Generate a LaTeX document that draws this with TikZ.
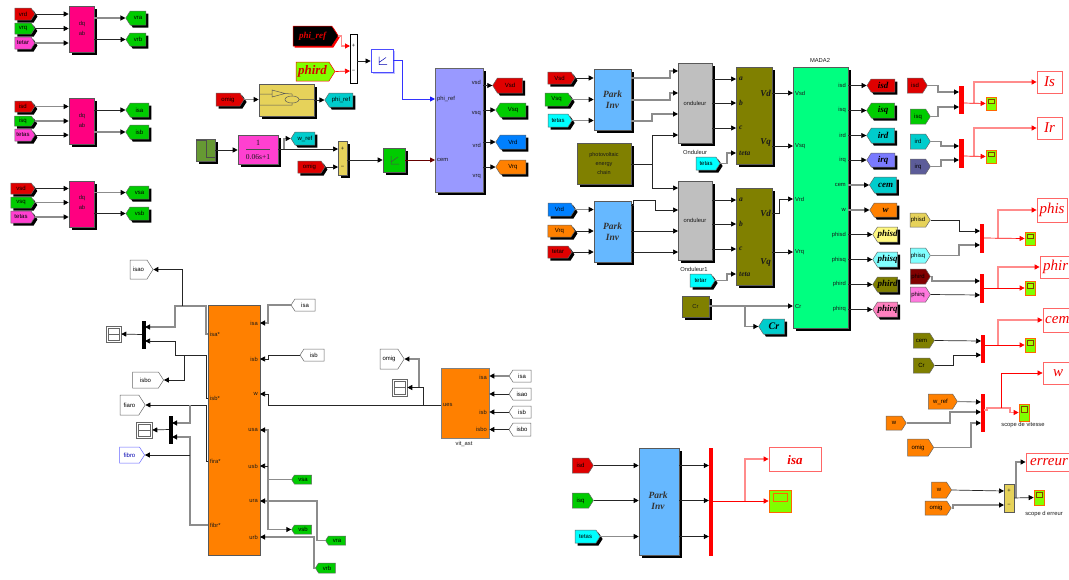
\documentclass[tikz,border=0pt]{standalone}
\usepackage{fontspec}
\setmainfont{Liberation Sans}
\newfontfamily\serifit[ItalicFont={Liberation Serif Italic},BoldItalicFont={Liberation Serif Bold Italic}]{Liberation Serif}
\usetikzlibrary{arrows.meta,shapes.symbols,shadows,calc}
\definecolor{rd}{HTML}{E00000}\definecolor{gr}{HTML}{00CC00}\definecolor{mg}{HTML}{FF40D0}
\definecolor{pk}{HTML}{FF0080}\definecolor{tl}{HTML}{00CCCC}\definecolor{ac}{HTML}{00FFFF}
\definecolor{og}{HTML}{FF8000}\definecolor{bl}{HTML}{0080FF}\definecolor{ol}{HTML}{808000}
\definecolor{yl}{HTML}{E6D25A}\definecolor{lav}{HTML}{9999FF}\definecolor{sky}{HTML}{66B8FF}
\definecolor{mada}{HTML}{00FF80}\definecolor{lime}{HTML}{80FF00}\definecolor{stepc}{HTML}{669933}
\newcount\lbc
\newif\ifnoshadow
\newcommand{\bx}[6][]{\noshadowfalse\pgfmathsetmacro\cxv{(#3+#5)/2}\pgfmathsetmacro\cyv{(#4+#6)/2}\pgfmathsetmacro\wv{#5-#3}\pgfmathsetmacro\hv{#6-#4}%
 \node[blk,#1,finalshd,minimum width=\wv pt,minimum height=\hv pt] (#2) at (\cxv,\cyv) {};}
\newcommand{\tr}[7][]{\noshadowfalse\pgfmathsetmacro\cxv{(#3+#5)/2}\pgfmathsetmacro\cyv{(#4+#6)/2}\pgfmathsetmacro\wv{#5-#3}\pgfmathsetmacro\hv{#6-#4}%
 \node[tagr,#1,finalshd,minimum width=\wv pt,minimum height=\hv pt] (#2) at (\cxv,\cyv) {#7};}
\newcommand{\tl}[7][]{\noshadowfalse\pgfmathsetmacro\cxv{(#3+#5)/2}\pgfmathsetmacro\cyv{(#4+#6)/2}\pgfmathsetmacro\wv{#5-#3}\pgfmathsetmacro\hv{#6-#4}%
 \node[tagl,#1,finalshd,minimum width=\wv pt,minimum height=\hv pt] (#2) at (\cxv,\cyv) {#7};}
\newcommand{\lb}[4][]{\global\advance\lbc by 1 \node[lbl,#1] (lb\the\lbc) at (#2,#3) {#4};}
\newcommand{\cc}[3]{\coordinate (#1) at (#2,#3);}
\newcommand{\gs}[5]{\bx[gscope]{#1}{#2}{#3}{#4}{#5}\pgfmathsetmacro\aav{#2+2}\pgfmathsetmacro\bbv{#4-2}\pgfmathsetmacro\ccv{#3+2}\pgfmathsetmacro\ddv{(#3+#5)/2}\draw[draw=black!50!orange,fill=lime!70!yellow,line width=.5pt] (\aav,\ccv) rectangle (\bbv,\ddv);}
\newcommand{\ws}[5]{\bx[wscope]{#1}{#2}{#3}{#4}{#5}\pgfmathsetmacro\aav{#2+2}\pgfmathsetmacro\bbv{#4-2}\pgfmathsetmacro\ccv{#3+2}\pgfmathsetmacro\ddv{(#3+#5)/2}\pgfmathsetmacro\eev{#5-2}\draw[black!60,line width=.5pt] (\aav,\ccv) rectangle (\bbv,\eev) (\aav,\ddv) -- (\bbv,\ddv);}
\newcommand{\piicon}[3][blue!70!black]{\draw[#1,line width=.5pt] (#2-3,#3-4) -- (#2-3,#3+4) -- (#2+5,#3+4) (#2-3,#3+2) -- (#2+4,#3-3);}
\tikzset{
 shd/.style={drop shadow={shadow xshift=2.5pt,shadow yshift=-2.5pt,fill=black,opacity=1}},
 noshd/.code={\noshadowtrue},
 finalshd/.code={\ifnoshadow\else\pgfkeysalso{shd}\fi},
 blk/.style={draw=black!65,line width=.6pt,inner sep=0pt},
 tagr/.style={shape=signal,signal to=east,signal pointer angle=115,draw=black!60,line width=.5pt,inner sep=0pt,font=\fontsize{6}{6}\selectfont,text=black},
 tagl/.style={shape=signal,signal to=west,signal pointer angle=115,draw=black!60,line width=.5pt,inner sep=0pt,font=\fontsize{6}{6}\selectfont,text=black},
 ital/.style={font=\serifit\bfseries\itshape\fontsize{9}{9}\selectfont,text=black},
 lbl/.style={inner sep=0pt,font=\fontsize{5.8}{6}\selectfont,text=black!90},
 parkl/.style={inner sep=0pt,align=center,font=\serifit\bfseries\itshape\fontsize{9.5}{11}\selectfont,text=black!80},
 pinl/.style={inner sep=0pt,font=\serifit\bfseries\itshape\fontsize{7.5}{8}\selectfont,text=black!90},
 gscope/.style={draw=orange!80!red,fill=lime,line width=.7pt,inner sep=0pt,noshd},
 wscope/.style={draw=black!60,fill=white,line width=.6pt,inner sep=0pt,noshd},
 disp/.style={draw=red!60,fill=white,line width=.8pt,inner sep=0pt,noshd},
 dispt/.style={inner sep=0pt,text=red!95!black,font=\serifit\itshape\fontsize{15}{15}\selectfont},
 muxr/.style={draw=red,fill=red,inner sep=0pt,line width=.3pt,noshd},
 muxk/.style={draw=black,fill=black,inner sep=0pt,line width=.3pt,noshd},
 wr/.style={draw=black!85,line width=.7pt,-{Triangle[length=5pt,width=5pt,black]}},
 wg/.style={draw=black!45,line width=1.1pt,-{Triangle[length=5pt,width=5pt,black]}},
 rw/.style={draw=red,line width=.7pt,-{Triangle[length=5pt,width=5pt,red]}},
 rg/.style={draw=red!45,line width=1.1pt,-{Triangle[length=5pt,width=5pt,red]}},
}
\begin{document}
\begin{tikzpicture}[x=1pt,y=-1pt]
\useasboundingbox (0,0) rectangle (1069,579);
% ---- top-left transforms
\tr[fill=rd]{a1}{13}{8}{33}{20}{vrd}\tr[fill=gr]{a2}{13}{23}{33}{34}{vrq}\tr[fill=mg]{a3}{13}{37}{33}{49}{tetar}
\bx[fill=pk]{A}{69}{6}{94}{52}\lb{82}{24}{dq}\lb{82}{33}{ab}
\tl[fill=gr]{a4}{128}{11}{148}{25}{vra}\tl[fill=gr]{a5}{128}{33}{148}{46}{vrb}
\draw[wr] (a1.east) -- (a1.east -| A.west);\draw[wr] (a2.east) -- (a2.east -| A.west);\draw[wg] (a3.east) -- (a3.east -| A.west);
\draw[wg] (a4.west -| A.east) -- (a4.west);\draw[wr] (a5.west -| A.east) -- (a5.west);
\tr[fill=rd]{b1}{13}{101}{33}{112}{isd}\tr[fill=gr]{b2}{13}{116}{33}{126}{isq}\tr[fill=mg]{b3}{13}{129}{33}{141}{tetas}
\bx[fill=pk]{B}{69}{98}{94}{144}\lb{82}{116}{dq}\lb{82}{125}{ab}
\tl[fill=gr]{b4}{128}{103}{151}{117}{isa}\tl[fill=gr]{b5}{128}{125}{151}{139}{isb}
\draw[wg] (b1.east) -- (b1.east -| B.west);\draw[wg] (b2.east) -- (b2.east -| B.west);\draw[wr] (b3.east) -- (b3.east -| B.west);
\draw[wr] (b4.west -| B.east) -- (b4.west);\draw[wg] (b5.west -| B.east) -- (b5.west);
\tr[fill=rd]{c1}{9}{183}{33}{194}{vsd}\tr[fill=gr]{c2}{9}{197}{33}{208}{vsq}\tr[fill=mg]{c3}{9}{211}{33}{223}{tetas}
\bx[fill=pk]{C}{69}{181}{94}{227}\lb{82}{198}{dq}\lb{82}{207}{ab}
\tl[fill=gr]{c4}{128}{186}{151}{199}{vsa}\tl[fill=gr]{c5}{128}{207}{151}{220}{vsb}
\draw[wr] (c1.east) -- (c1.east -| C.west);\draw[wg] (c2.east) -- (c2.east -| C.west);\draw[wg] (c3.east) -- (c3.east -| C.west);
\draw[wg] (c4.west -| C.east) -- (c4.west);\draw[wr] (c5.west -| C.east) -- (c5.west);
% ---- control part
\tr[fill=black,draw=red,ital,text=red!90!black,noshd,drop shadow={shadow xshift=1.5pt,shadow yshift=-1.5pt,fill=red,opacity=1}]{pr}{290}{26}{335}{46}{phi\_ref}
\tr[fill=lime,draw=red,text=red!85!black,noshd,font=\serifit\bfseries\itshape\fontsize{13}{13}\selectfont]{ph}{293}{62}{332}{81}{phird}
\bx[fill=white,draw=black,noshd]{S1}{350}{34}{357}{83}\lb{353.5}{46}{+}\lb{353.5}{71}{−}
\cc{s1a}{350}{46}\cc{s1b}{350}{71}\cc{s1o}{357}{61}
\draw[rg] (pr.east) -- ++(3,0) |- (s1a);\draw[rw] (ph.east) -- (s1b);
\bx[fill=white,draw=blue!70,line width=.9pt,noshd,drop shadow={shadow xshift=1.5pt,shadow yshift=-1.5pt,fill=blue!25,opacity=1}]{P1}{371}{49}{393}{72}\piicon{382}{60.5}
\draw[wr] (s1o) -- (s1o -| P1.west);
\bx[fill=lav,draw=black!60]{V}{435}{68}{483}{192}
\cc{vp}{435}{99}\cc{vc}{435}{160}
\draw[draw=blue!80,line width=.9pt,-{Triangle[length=5pt,width=5pt,blue!90]}] (P1.east) -- ++(9,0) |- (vp);
\lb[anchor=west]{437}{99}{phi\_ref}\lb[anchor=west]{437}{160}{cem}
\lb[anchor=east]{481}{82}{vsd}\lb[anchor=east]{481}{114}{vsq}\lb[anchor=east]{481}{145}{vrd}\lb[anchor=east]{481}{177}{vrq}
\tl[fill=rd]{v1}{495}{78}{525}{93}{Vsd}\tl[fill=gr]{v2}{498}{103}{528}{117}{Vsq}\tl[fill=bl]{v3}{498}{135}{528}{149}{Vrd}\tl[fill=og]{v4}{498}{160}{528}{174}{Vrq}
\draw[wr] (v1.west -| V.east) -- (v1.west);\draw[wr] (v2.west -| V.east) -- (v2.west);\draw[wr] (v3.west -| V.east) -- (v3.west);\draw[wr] (v4.west -| V.east) -- (v4.west);
\tr[fill=rd]{om1}{214}{93}{242}{106}{omig}
\bx[fill=yl]{Y}{259}{84}{314}{116}
\draw[black!65,line width=.5pt] (259,94) -- (272,94) (272,90) -- (285,93.5) -- (272,97) -- cycle (285,93.5) -- (292,94) -- (292,96) (299,99.5) -- (314,99.5) (259,105) -- (292,105) -- (292,103);
\draw[black!65,fill=yl,line width=.5pt] (292,99.5) ellipse (7 and 3.5);
\tl[fill=tl]{pq}{327}{93}{355}{107}{phi\_ref}
\draw[wg] (om1.east) -- (om1.east -| Y.west);\draw[wr] (pq.west -| Y.east) -- (pq.west);
\bx[fill=stepc]{ST}{196}{139}{215}{161}
\draw[black!70,line width=.6pt] (196,140.5) -- (206,140.5) -- (206,157) -- (215,157);
\bx[fill=mg]{TF}{238}{135}{278}{164}
\lb[font=\serifit\fontsize{8}{8}\selectfont]{258}{143}{1}\lb[font=\serifit\fontsize{7.5}{8}\selectfont]{258}{157}{0.06s+1}
\draw[black!70,line width=.4pt] (246,149.5) -- (270,149.5);
\draw[wr] (ST.east) -- (ST.east -| TF.west);
\tl[fill=tl]{wr1}{293}{132}{317}{145}{w\_ref}
\bx[fill=yl]{S2}{338}{141}{347}{175}\lb{342.5}{149}{+}\lb{342.5}{167}{−}
\cc{s2a}{338}{149}\cc{s2b}{338}{167}\cc{s2o}{347}{160}\cc{tfo}{278}{149}\cc{j2}{284}{149}
\draw[wr] (tfo) -- (s2a);\draw[wg] (j2) -- (284,138.5) -- (wr1.west);
\tr[fill=rd]{om2}{296}{161}{323}{173}{omig}
\draw[wr] (om2.east) -- (s2b);
\bx[fill=gr]{P2}{383}{148}{405}{172}\piicon[black!70]{394}{160}
\draw[wr] (s2o) -- (s2o -| P2.west);
\draw[draw=red!40!black,line width=.8pt,-{Triangle[length=5pt,width=5pt,red!40!black]}] (P2.east) -- (vc);
% ---- inverters
\tr[fill=rd]{d1}{546}{72}{573}{84}{Vsd}\tr[fill=gr]{d2}{543}{93}{570}{106}{Vsq}\tr[fill=ac]{d3}{546}{114}{570}{127}{tetas}
\bx[fill=sky]{PI1}{594}{69}{631}{130}\lb[parkl]{612.5}{100}{Park\\Inv}
\draw[wr] (d1.east) -- (d1.east -| PI1.west);\draw[wg] (d2.east) -- (d2.east -| PI1.west);\draw[wg] (d3.east) -- (d3.east -| PI1.west);
\bx[fill=black!25]{O1}{678}{63}{712}{143}\lb{695}{103}{onduleur}\lb{695}{152}{Onduleur}
\bx[fill=black!25]{O2}{678}{181}{712}{260}\lb{695}{220}{onduleur}\lb{694}{269}{Onduleur1}
\cc{o1a}{678}{71}\cc{o1b}{678}{93}\cc{o1c}{678}{114}\cc{o1d}{678}{135}
\cc{o2a}{678}{188}\cc{o2b}{678}{210}\cc{o2c}{678}{231}\cc{o2d}{678}{252}
\cc{pio1}{631}{78}\cc{pio2}{631}{100}\cc{pio3}{631}{121}
\draw[wg] (pio1) -- (670,78) |- (o1a);\draw[wg] (pio2) -- (670,100) |- (o1b);\draw[wg] (pio3) -- (652,121) |- (o1c);
\bx[fill=ol]{PV}{577}{143}{631}{184}\lb[align=center,font=\fontsize{5.5}{9}\selectfont]{604}{163.5}{photovoltaic\\energy\\chain}
\cc{pvo}{631}{164}\cc{pvj}{652}{164}
\draw[wr] (pvo) -- (pvj) |- (o1d);\draw[wr] (pvj) |- (o2a);
\tr[fill=bl]{e1}{546}{203}{573}{216}{Vrd}\tr[fill=og]{e2}{546}{225}{573}{237}{Vrq}\tr[fill=rd]{e3}{546}{246}{570}{258}{tetar}
\bx[fill=sky]{PI2}{594}{201}{631}{262}\lb[parkl]{612.5}{232}{Park\\Inv}
\draw[wg] (e1.east) -- (e1.east -| PI2.west);\draw[wr] (e2.east) -- (e2.east -| PI2.west);\draw[wr] (e3.east) -- (e3.east -| PI2.west);
\cc{pip}{631}{205}
\draw[wr] (pip) -- (633,205) -- (633,200) -- (655,200) -- (655,210) -- (o2b);
\draw[wr] (o2c -| PI2.east) -- (o2c);\draw[wr] (o2d -| PI2.east) -- (o2d);
\bx[fill=ol]{Q1}{736}{67}{772}{164}\bx[fill=ol]{Q2}{736}{188}{772}{285}
\lb[pinl,anchor=west]{739}{79}{a}\lb[pinl,anchor=west]{739}{103}{b}\lb[pinl,anchor=west]{739}{128}{c}\lb[pinl,anchor=west]{739}{153}{teta}
\lb[pinl,anchor=west]{739}{200}{a}\lb[pinl,anchor=west]{739}{224}{b}\lb[pinl,anchor=west]{739}{249}{c}\lb[pinl,anchor=west]{739}{274}{teta}
\lb[pinl,anchor=east,font=\serifit\bfseries\itshape\fontsize{9}{9}\selectfont]{771}{93}{Vd}\lb[pinl,anchor=east,font=\serifit\bfseries\itshape\fontsize{9}{9}\selectfont]{771}{143}{Vq}
\lb[pinl,anchor=east,font=\serifit\bfseries\itshape\fontsize{9}{9}\selectfont]{771}{213}{Vd}\lb[pinl,anchor=east,font=\serifit\bfseries\itshape\fontsize{9}{9}\selectfont]{771}{263}{Vq}
\cc{q1a}{736}{79}\cc{q1b}{736}{103}\cc{q1c}{736}{128}\cc{q1d}{736}{153}
\cc{q2a}{736}{200}\cc{q2b}{736}{224}\cc{q2c}{736}{249}\cc{q2d}{736}{274}
\draw[wr] (q1a -| O1.east) -- (q1a);\draw[wr] (q1b -| O1.east) -- (q1b);\draw[wr] (q1c -| O1.east) -- (q1c);
\draw[wr] (q2a -| O2.east) -- (q2a);\draw[wr] (q2b -| O2.east) -- (q2b);\draw[wr] (q2c -| O2.east) -- (q2c);
\tr[fill=ac]{f1}{694}{157}{718}{170}{tetas}\tr[fill=ac]{f2}{688}{274}{713}{287}{tetar}
\draw[wg] (f1.east) -- (727,163.5) |- (q1d);\draw[wg] (f2.east) -- (727,280.5) |- (q2d);
\bx[fill=ol]{CR}{682}{296}{709}{317}\lb{695.5}{306}{Cr}
% ---- machine
\bx[fill=mada]{M}{793}{67}{848}{328}\lb{820}{60}{MADA2}
\cc{mi1}{793}{93}\cc{mi2}{793}{146}\cc{mi3}{793}{199}\cc{mi4}{793}{252}\cc{mi5}{793}{306}
\draw[wr] (mi1 -| Q1.east) -- (mi1);\draw[wr] (mi2 -| Q1.east) -- (mi2);
\draw[wr] (Q2.east |- 0,213) -- (779,213) |- (mi3);\draw[wr] (mi4 -| Q2.east) -- (mi4);
\cc{crj}{742}{306}
\tl[fill=tl,ital,font=\serifit\bfseries\itshape\fontsize{10}{10}\selectfont]{cr2}{761}{319}{787}{334}{Cr}
\draw[wg] (mi5 -| CR.east) -- (mi5);\draw[wg] (crj) -- (745,306) |- (cr2.west);
\foreach \nm/\yy in {Vsd/93,Vsq/146,Vrd/199,Vrq/252,Cr/306}{\node[lbl,anchor=west] (ml\nm) at (795,\yy) {\nm};}
\foreach \nm/\yy in {isd/85,isq/110,ird/135,irq/160,cem/185,w/210,phisd/235,phisq/260,phird/284,phirq/309}{\node[lbl,anchor=east] (mr\nm) at (846,\yy) {\nm};}
\tl[fill=rd,ital]{g1}{869}{79}{897}{92}{isd}\tl[fill=gr,ital]{g2}{869}{103}{897}{118}{isq}\tl[fill=tl,ital]{g3}{869}{128}{897}{143}{ird}\tl[fill=lav!80!blue,ital]{g4}{869}{153}{897}{167}{irq}
\tl[fill=tl,ital]{g5}{872}{177}{899}{193}{cem}\tl[fill=og,ital]{g6}{872}{203}{899}{217}{w}
\tl[fill=yellow!50,ital]{g7}{876}{227}{899}{242}{phisd}\tl[fill=ac!50,ital]{g8}{876}{252}{899}{267}{phisq}\tl[fill=ol,ital]{g9}{876}{277}{899}{292}{phird}\tl[fill=pk!50,ital]{g10}{876}{302}{899}{317}{phirq}
\foreach \g/\k in {g1/wr,g2/wr,g3/wr,g4/wr,g5/wg,g6/wg,g7/wr,g8/wr,g9/wr,g10/wr}{\draw[\k] (\g.west -| M.east) -- (\g.west);}
% ---- scopes right
\tr[fill=rd,noshd]{h1}{905}{78}{925}{93}{isd}\tr[fill=gr,noshd]{h2}{908}{109}{928}{124}{isq}\tr[fill=tl,noshd]{h3}{908}{134}{928}{149}{ird}\tr[fill=lav!60!black,noshd]{h4}{908}{159}{928}{174}{irq}
\foreach \n/\xa/\ya/\xb/\yb in {m1/959/86/963/113,m2/959/139/963/167,m3/980/224/983/252,m4/980/274/983/302,m5/981/335/984/362,m6/981/394/984/431}{\bx[muxr]{\n}{\xa}{\ya}{\xb}{\yb}}
\cc{m1a}{959}{92}\cc{m1b}{959}{107}\cc{m1o}{963}{103}\cc{m1j}{974}{103}
\cc{m2a}{959}{146}\cc{m2b}{959}{160}\cc{m2o}{963}{156}\cc{m2j}{974}{156}
\draw[wg] (h1.east) -- (938,85.5) |- (m1a);\draw[wg] (h2.east) -- (938,116.5) |- (m1b);
\draw[wg] (h3.east) -- (941,141.5) |- (m2a);\draw[wg] (h4.east) -- (941,166.5) |- (m2b);
\bx[disp]{Is}{1037}{71}{1062}{93}\lb[dispt]{1049.5}{82}{Is}
\bx[disp]{Ir}{1037}{117}{1062}{139}\lb[dispt]{1049.5}{128}{Ir}
\gs{s1}{986}{97}{996}{110}\gs{s2}{986}{150}{996}{163}
\draw[rg] (m1j) |- (Is.west);\draw[rw] (m1o) -- (s1.west);
\draw[rg] (m2j) |- (Ir.west);\draw[rw] (m2o) -- (s2.west);
\tr[fill=yl,noshd]{h5}{908}{213}{928}{227}{phisd}\tr[fill=ac!50,noshd]{h6}{908}{248}{928}{263}{phisq}\tr[fill=red!50!black,noshd]{h7}{908}{269}{928}{284}{phird}\tr[fill=mg!70!white,noshd]{h8}{908}{287}{928}{302}{phirq}
\cc{m3a}{980}{231}\cc{m3b}{980}{245}\cc{m3o}{983}{238}\cc{m3j}{998}{238}
\cc{m4a}{980}{281}\cc{m4b}{980}{295}\cc{m4o}{983}{288}\cc{m4j}{998}{288}
\draw[wr] (h5.east) -- (959,220) |- (m3a);\draw[wg] (h6.east) -- (959,255.5) |- (m3b);
\draw[wg] (h7.east) -- (932,276.5) |- (m4a);\draw[wr] (h8.east) -- (m4b);
\bx[disp]{Ph1}{1037}{198}{1067}{222}\lb[dispt]{1052}{210}{phis}
\bx[disp]{Ph2}{1040}{256}{1075}{278}\lb[dispt,anchor=west]{1043}{267}{phir}
\gs{s3}{1025}{232}{1035}{245}\gs{s4}{1025}{281}{1035}{295}
\draw[rg] (m3j) |- (Ph1.west);\draw[rw] (m3o) -- (s3.west);
\draw[rg] (m4j) |- (Ph2.west);\draw[rw] (m4o) -- (s4.west);
\tr[fill=ol,noshd]{h9}{911}{333}{932}{348}{cem}\tr[fill=ol,noshd]{h10}{911}{358}{932}{373}{Cr}
\cc{m5a}{981}{341}\cc{m5b}{981}{355}\cc{m5o}{984}{345}\cc{m5j}{998}{345}
\draw[wr] (h9.east) -- (m5a);\draw[wr] (h10.east) -- (953,365.5) |- (m5b);
\bx[disp]{Ce}{1043}{308}{1075}{332}\lb[dispt,anchor=west]{1045}{320}{cem}
\gs{s5}{1025}{338}{1035}{352}
\draw[rg] (m5j) |- (Ce.west);\draw[rw] (m5o) -- (s5.west);
\tr[fill=og,noshd]{h11}{926}{394}{955}{409}{w\_ref}\tr[fill=og,noshd]{h12}{884}{416}{904}{430}{w}\tr[fill=og,noshd]{h13}{905}{439}{931}{456}{omig}
\cc{m6a}{981}{402}\cc{m6b}{981}{412}\cc{m6c}{981}{423}\cc{m6o}{984}{410}\cc{m6j}{1001}{408}
\draw[wg] (h11.east) -- (m6a);\draw[wg] (h12.east) -- (950,423) |- (m6b);\draw[wg] (h13.east) -- (971,447.5) |- (m6c);
\bx[disp]{Wb}{1043}{362}{1075}{384}\lb[dispt]{1058}{373}{w}
\gs{s6}{1019}{404}{1029}{421}\lb{1023}{425}{scope de vitesse}
\draw[rg] (m6o) -- (987,410) -- (987,408) -- (1010,408) -- (1010,412.5) -- (s6.west);
\draw[rw] (m6j) |- (Wb.west);
\tr[fill=og,noshd]{h14}{929}{482}{949}{498}{w}\tr[fill=og,noshd]{h15}{923}{501}{949}{515}{omig}
\bx[fill=yl,noshd]{S3}{1004}{484}{1014}{512}\lb{1009}{491}{+}\lb{1009}{505}{−}
\cc{s3a}{1004}{491}\cc{s3b}{1004}{505}\cc{s3o}{1014}{498}\cc{s3j}{1016}{498}
\draw[wr] (h14.east) -- (s3a);\draw[wg] (h15.east) -- (953,508) |- (s3b);
\bx[disp]{Er}{1026}{453}{1075}{471}\lb[dispt,anchor=west]{1030}{462}{erreur}
\gs{s7}{1034}{490}{1044}{505}\lb{1044}{514}{scope d erreur}
\draw[wg] (s3j) |- (Er.west);\draw[wr] (s3o) -- (s7.west);
% ---- bottom middle
\tr[fill=rd,noshd]{k1}{570}{458}{591}{473}{isd}\tr[fill=gr,noshd]{k2}{570}{493}{591}{508}{isq}\tr[fill=ac]{k3}{573}{530}{598}{543}{tetas}
\bx[fill=sky]{PI3}{639}{448}{679}{555}\lb[parkl]{658}{501}{Park\\Inv}
\draw[wr] (k1.east) -- (k1.east -| PI3.west);\draw[wr] (k2.east) -- (k2.east -| PI3.west);\draw[wg] (k3.east) -- (k3.east -| PI3.west);
\bx[muxr]{M7}{709}{448}{712}{555}
\draw[wr] (k1.east -| PI3.east) -- (k1.east -| M7.west);\draw[wr] (k2.east -| PI3.east) -- (k2.east -| M7.west);\draw[wr] (k3.east -| PI3.east) -- (k3.east -| M7.west);
\bx[disp]{Ia}{769}{447}{821}{471}\lb[dispt,font=\serifit\bfseries\itshape\fontsize{13}{13}\selectfont]{795}{460}{isa}
\bx[gscope]{s8}{769}{490}{791}{512}
\draw[draw=orange!80!red,fill=lime,line width=.6pt] (773,493) rectangle (787,501);
\cc{m7o}{712}{501}\cc{m7j}{745}{501}
\draw[rw] (m7o) -- (s8.west);\draw[rg] (m7j) |- (Ia.west);
% ---- bottom-left observer
\bx[fill=og,noshd]{F}{208}{305}{260}{555}
\lb[anchor=west]{210}{334}{isa*}\lb[anchor=west]{210}{398}{isb*}\lb[anchor=west]{210}{461}{fira*}\lb[anchor=west]{210}{525}{fibr*}
\lb[anchor=east]{258}{323}{isa}\lb[anchor=east]{258}{359}{isb}\lb[anchor=east]{258}{394}{w}\lb[anchor=east]{258}{430}{usa}\lb[anchor=east]{258}{466}{usb}\lb[anchor=east]{258}{501}{ura}\lb[anchor=east]{258}{537}{urb}
\tr[fill=white,noshd]{n1}{127}{260}{150}{279}{isao}\tr[fill=white,noshd]{n2}{130}{372}{161}{388}{isbo}
\tr[fill=white,noshd]{n3}{117}{395}{142}{415}{fiaro}\tr[fill=white,noshd,draw=blue!60,text=blue!70!black]{n4}{117}{447}{142}{463}{fibro}
\bx[muxk]{X1}{142}{321}{145}{348}\bx[muxk]{X2}{169}{416}{172}{443}
\ws{w1}{106}{326}{121}{342}\ws{w2}{136}{422}{152}{438}
\cc{fa}{208}{334}\cc{fb}{208}{398}\cc{fc}{208}{461}\cc{fd}{208}{525}
\cc{x1a}{145}{327}\cc{x1b}{145}{341}\cc{x2a}{172}{423}\cc{x2b}{172}{437}
\cc{ja}{182}{306}\cc{jb}{184}{355}\cc{jc}{190}{405}\cc{jd}{190}{455}\cc{jdb}{190}{437}
\draw[wg] (fa) -- (206,334) |- (175,306) |- (x1a);
\draw[wr] (ja) |- (n1.east);
\draw[wr] (fb) -- (206,398) |- (175,355) |- (x1b);
\draw[wr] (jb) |- (n2.east);
\draw[wr] (fc) -- (206,461) |- (n3.east);
\draw[wg] (jc) |- (x2a);
\draw[wg] (fd) -| (jdb) -- (x2b);
\draw[wr] (jd) -- (n4.east);
\draw[wr] (X1.west) -- (w1.east);\draw[wr] (X2.west) -- (w2.east);
\tl[fill=white,noshd]{n5}{293}{299}{317}{311}{isa}\tl[fill=white,noshd]{n6}{302}{349}{326}{361}{isb}
\cc{fi1}{260}{323}\cc{fi2}{260}{359}\cc{fi3}{260}{394}\cc{fi4}{260}{430}\cc{fi5}{260}{466}\cc{fi6}{260}{501}\cc{fi7}{260}{537}
\draw[wg] (n5.west) -- (268,305) |- (fi1);\draw[wr] (n6.west) -- (268,355) |- (fi2);
\tl[fill=gr,noshd]{n7}{293}{475}{313}{484}{vsa}\tl[fill=gr,noshd]{n8}{293}{525}{313}{534}{vsb}\tl[fill=gr,noshd]{n9}{327}{536}{347}{545}{vra}\tl[fill=gr,noshd]{n10}{317}{563}{337}{573}{vrb}
\cc{ju}{268}{479.5}\cc{juu}{268}{466}
\draw[wg] (n7.west) -- (ju) |- (fi4);\draw[wr] (juu) -- (fi5);\draw[wg] (ju) |- (n8.west);
\draw[wg] (n9.west) -- (317,540.5) |- (fi6);\draw[wg] (n10.west) -- (314,568) |- (fi7);
\bx[fill=og,draw=black!50,noshd]{G}{441}{368}{489}{438}\lb{464}{444}{vit\_ast}
\lb[anchor=west]{443}{405}{ues}\lb[anchor=east]{487}{377}{isa}\lb[anchor=east]{487}{412}{isb}\lb[anchor=east]{487}{429}{isbo}
\tl[fill=white,noshd]{r1}{511}{370}{533}{382}{isa}\tl[fill=white,noshd]{r2}{511}{388}{533}{400}{isao}\tl[fill=white,noshd]{r3}{511}{406}{533}{418}{isb}\tl[fill=white,noshd]{r4}{511}{423}{533}{436}{isbo}
\draw[wg] (r1.west) -- (r1.west -| G.east);\draw[wr] (r2.west) -- (r2.west -| G.east);\draw[wr] (r3.west) -- (r3.west -| G.east);\draw[wr] (r4.west) -- (r4.west -| G.east);
\tr[fill=white,noshd]{r5}{377}{349}{401}{369}{omig}
\ws{w3}{392}{379}{407}{396}
\cc{gi}{441}{405}\cc{gj}{423}{405}\cc{gk}{419}{387}
\draw[wr] (gi) -- (268,405) |- (fi3);
\draw[wr] (gj) |- (w3.east);
\draw[wg] (gk) |- (r5.east);
\end{tikzpicture}
\end{document}
